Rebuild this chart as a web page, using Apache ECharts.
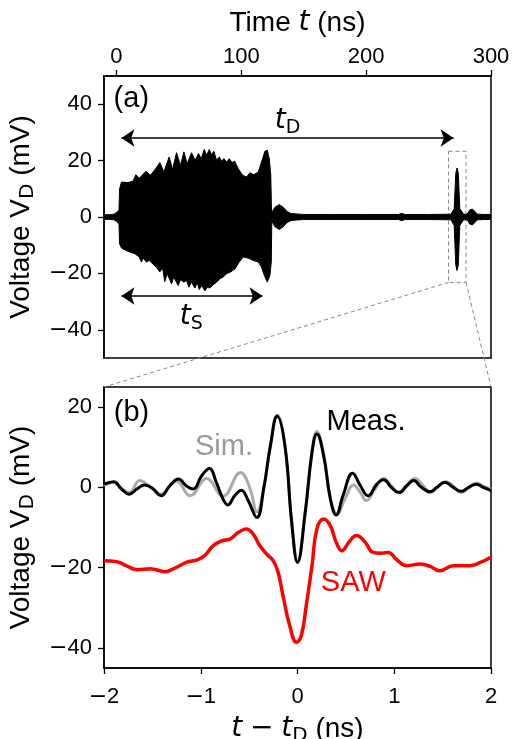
<!DOCTYPE html>
<html>
<head>
<meta charset="utf-8">
<script src="https://cdn.jsdelivr.net/npm/echarts@6/dist/echarts.min.js"></script>
<style>
  html, body { margin: 0; padding: 0; background: #fff; }
  #chart { width: 519px; height: 739px; }
</style>
</head>
<body>
<div id="chart"></div>
<script>
// (a) envelope of the dense detector trace V_D(t)
const upperT = [-10, -6, -2, 0, 2, 2.5, 4, 9, 13.3, 15.5, 18.2, 20, 23.5, 27.2, 31.5, 34.7, 38, 42.2, 44.9, 48.1,
  51.3, 54, 56.6, 60.1, 63, 65.7, 67.9, 70.3, 72.2, 74.3, 76.2, 78, 80.2, 82.3, 84.2, 86, 88.2, 90.3, 92.5, 94.6,
  97.5, 101, 104.2, 106.9, 110.1, 113.6, 116.2, 118.9, 120.8, 122.4, 123.6, 124.2, 125, 127, 130.4, 133.5, 136.5,
  140, 150, 170, 200, 226, 228.5, 231, 250, 268, 270.5, 271.8, 272.8, 273.8, 275, 278, 281, 283, 285, 287, 289, 295, 300]
const upperV = [0.9, 0.8, 1.0, 1.6, 2.5, 10.0, 12.4, 12.2, 12.7, 15.0, 13.8, 14.5, 16.2, 14.8, 17.2, 19.3, 16.0, 21.3, 16.9, 22.8,
  18.3, 23.1, 18.9, 22.8, 20.1, 22.5, 20.7, 24.0, 21.9, 23.9, 22.1, 23.3, 20.1, 21.3, 19.8, 20.7, 19.5, 20.7, 19.3, 19.8,
  17.2, 14.8, 14.2, 15.7, 15.0, 16.0, 19.5, 23.3, 23.7, 20.7, 14.8, 1.5, 1.2, 3.5, 4.4, 3.5, 2.0,
  1.2, 0.9, 0.9, 0.9, 0.9, 1.3, 0.9, 0.9, 1.0, 3.0, 15.5, 17.4, 15.5, 3.0, 1.0, 1.0, 2.5, 2.8, 2.0, 1.0, 0.9, 0.9]
const lowerT = [-10, -6, -2, 0, 2, 2.5, 4, 9.3, 14.7, 18.2, 20, 21.4, 24, 26.2, 28.9, 32, 34.7, 36.9, 38.7, 40.6,
  44.1, 45.9, 49.4, 51.3, 54, 56.1, 58, 60.1, 62.8, 64.7, 66.3, 68.4, 70.8, 72.7, 74.8, 77.5, 80.2, 82.8, 85.5, 88.2,
  91.4, 94.9, 98.3, 101.6, 105.6, 109.6, 113.6, 116.2, 118.4, 120.8, 122.9, 124, 124.4, 125, 127, 130.4, 133.5, 136.5,
  140, 150, 170, 200, 226, 228.5, 231, 250, 268, 270.5, 271.8, 272.8, 273.8, 275, 278, 281, 283, 285, 287, 289, 295, 300]
const lowerV = [-0.9, -0.8, -1.0, -1.5, -2.5, -9.5, -11.0, -12.2, -13.0, -14.2, -16.0, -14.6, -16.0, -15.4, -16.6, -17.8, -19.5, -18.1, -22.9, -20.1,
  -23.7, -21.3, -24.3, -22.2, -23.1, -22.5, -24.9, -23.1, -25.2, -23.3, -25.7, -24.3, -26.2, -24.9, -25.2, -24.0, -23.1, -21.9, -21.3, -20.1,
  -19.5, -18.4, -16.0, -14.2, -14.6, -15.4, -16.0, -17.8, -20.7, -23.1, -20.7, -16.0, -1.5, -1.2, -3.5, -4.4, -3.5, -2.0,
  -1.2, -0.9, -0.9, -0.9, -0.9, -1.3, -0.9, -0.9, -1.0, -3.0, -17.0, -19.0, -17.0, -3.0, -1.0, -1.0, -2.5, -2.8, -2.0, -1.0, -0.9, -0.9]
const topXTicks = [0, 100, 200, 300]
const topYTicks = [-40, -20, 0, 20, 40]

// (b) zoom around t_D
const measT = [-2.0, -1.9, -1.82, -1.74, -1.66, -1.58, -1.49, -1.41, -1.32, -1.23, -1.15, -1.08, -0.99, -0.91, -0.84, -0.77,
  -0.72, -0.65, -0.58, -0.51, -0.42, -0.35, -0.28, -0.21, -0.13, -0.06, 0.0, 0.08, 0.15, 0.2, 0.27, 0.34, 0.4, 0.47,
  0.57, 0.65, 0.73, 0.82, 0.89, 0.97, 1.05, 1.13, 1.2, 1.28, 1.37, 1.44, 1.52, 1.61, 1.69, 1.77, 1.85, 1.92, 2.0]
const measV = [0.8, 1.4, -0.4, -1.7, -0.4, 0.6, -0.4, -2.1, 0.4, 2.1, 0.4, -0.4, 2.9, 4.7, 1.3, -2.9,
  -4.4, -2.1, -0.7, -3.3, -7.5, -0.4, 10.4, 17.7, 10.4, -8.7, -18.7, -6.2, 8.7, 13.3, 7.9, -2.9, -6.9, -2.1,
  3.5, 0.4, -2.1, 0.8, 1.9, 0.0, -1.3, 0.4, 1.7, 0.0, -1.1, 0.0, 1.3, 0.0, -1.0, 0.0, 0.8, 0.0, -0.8]
const simT = [-2.0, -1.9, -1.82, -1.74, -1.63, -1.52, -1.42, -1.25, -1.11, -0.94, -0.77, -0.59, -0.49, -0.42, -0.35, -0.28,
  -0.21, -0.13, -0.06, 0.0, 0.08, 0.15, 0.2, 0.27, 0.34, 0.41, 0.49, 0.58, 0.65, 0.71, 0.8, 0.89, 0.97, 1.04,
  1.13, 1.21, 1.3, 1.37, 1.46, 1.54, 1.61, 1.69, 1.77, 1.85, 1.92, 2.0]
const simV = [0.4, 1.3, -0.3, -1.3, 1.7, 0.0, -1.7, 1.5, -2.1, 2.2, -2.2, 3.7, -0.4, -6.1, -0.4, 10.4,
  18.0, 10.4, -8.7, -18.3, -6.2, 9.1, 13.9, 8.3, -2.9, -6.6, -2.9, 0.6, -1.3, -3.3, -0.4, 2.2, 0.4, -1.3,
  0.6, 2.2, 0.4, -1.3, 0.3, 1.4, 0.3, -1.3, 0.0, 1.1, 0.3, -0.4]
const sawT = [-2.0, -1.87, -1.77, -1.66, -1.52, -1.37, -1.25, -1.15, -1.03, -0.96, -0.87, -0.78, -0.7, -0.61, -0.53, -0.46,
  -0.39, -0.32, -0.25, -0.2, -0.15, -0.08, -0.01, 0.04, 0.09, 0.15, 0.2, 0.27, 0.34, 0.4, 0.46, 0.53, 0.61, 0.7,
  0.78, 0.87, 0.94, 1.02, 1.13, 1.27, 1.37, 1.47, 1.61, 1.78, 1.89, 2.0]
const sawV = [-18.3, -18.5, -19.5, -20.5, -20.3, -21.0, -19.9, -18.7, -18.0, -17.0, -14.5, -13.3, -12.9, -11.2, -10.4, -11.6,
  -14.5, -16.6, -18.3, -21.2, -27.0, -34.5, -38.6, -36.9, -29.5, -19.5, -10.4, -7.9, -9.6, -13.7, -15.8, -13.7, -12.0, -13.7,
  -16.2, -16.4, -16.2, -17.9, -19.5, -19.1, -19.7, -20.8, -19.5, -19.5, -18.7, -17.4]
const bottomYTicks = [-40, -20, 0, 20]

// annotation anchors (data coordinates)
const tdArrow = [[4, 28], [270, 28]]
const tsArrow = [[4, -28], [117, -28]]
const zoomBox = [[266, 23.3], [280, -23.2]]

const FONT = 'Liberation Sans, Arial, sans-serif'
const MATH = 'DejaVu Sans'
const pairs = (xs, ys) => xs.map((x, i) => [x, ys[i]])
// matplotlib-style wide minus sign on tick labels
const minus = v => v < 0 ? '{m|\u2212}' + Math.abs(v) : String(v)

const axisLineStyle = { color: '#000', width: 1.5 }
const tickStyle = { color: '#000', width: 1.3 }
const labelStyle = {
  color: '#000', fontSize: 22, fontFamily: FONT, formatter: minus,
  rich: { m: { fontSize: 22, fontFamily: MATH, color: '#000' } }
}
const nameStyle = {
  color: '#000', fontSize: 28, fontFamily: FONT, lineHeight: 34,
  rich: {
    i: { fontSize: 28, fontFamily: MATH, fontStyle: 'italic', color: '#000', lineHeight: 34 },
    m: { fontSize: 28, fontFamily: MATH, color: '#000', lineHeight: 34 },
    sub: { fontSize: 20, fontFamily: MATH, color: '#000', lineHeight: 20, verticalAlign: 'bottom' }
  }
}

const chart = echarts.init(document.getElementById('chart'))
chart.setOption({
  animation: false,
  grid: [
    { left: 104, top: 76, width: 387, height: 282, show: true, borderColor: '#000', borderWidth: 1.5, outerBoundsMode: 'none' },
    { left: 104, top: 387, width: 387, height: 281, show: true, borderColor: '#000', borderWidth: 1.5, outerBoundsMode: 'none' }
  ],
  xAxis: [
    {
      gridIndex: 0, type: 'value', position: 'top', min: -10, max: 300,
      name: 'Time {i|t} (ns)', nameLocation: 'middle', nameGap: 36, nameTextStyle: nameStyle,
      axisLine: { onZero: false, lineStyle: axisLineStyle },
      axisTick: { length: 6, customValues: topXTicks, lineStyle: tickStyle },
      axisLabel: Object.assign({ margin: 8, customValues: topXTicks }, labelStyle),
      splitLine: { show: false }
    },
    {
      gridIndex: 1, type: 'value', min: -2, max: 2, interval: 1,
      name: '{i|t} {m|\u2212} {i|t}{sub|D} (ns)', nameLocation: 'middle', nameGap: 44, nameTextStyle: nameStyle,
      axisLine: { onZero: false, lineStyle: axisLineStyle },
      axisTick: { length: 6, lineStyle: tickStyle },
      axisLabel: Object.assign({ margin: 18 }, labelStyle),
      splitLine: { show: false }
    }
  ],
  yAxis: [
    {
      gridIndex: 0, type: 'value', min: -50, max: 50,
      name: 'Voltage V{sub|D} (mV)', nameLocation: 'middle', nameGap: 60, nameRotate: 90, nameTextStyle: nameStyle,
      axisLine: { onZero: false, lineStyle: axisLineStyle },
      axisTick: { length: 6, customValues: topYTicks, lineStyle: tickStyle },
      axisLabel: Object.assign({ margin: 12, customValues: topYTicks }, labelStyle),
      splitLine: { show: false }
    },
    {
      gridIndex: 1, type: 'value', min: -45, max: 25,
      name: 'Voltage V{sub|D} (mV)', nameLocation: 'middle', nameGap: 60, nameRotate: 90, nameTextStyle: nameStyle,
      axisLine: { onZero: false, lineStyle: axisLineStyle },
      axisTick: { length: 6, customValues: bottomYTicks, lineStyle: tickStyle },
      axisLabel: Object.assign({ margin: 12, customValues: bottomYTicks }, labelStyle),
      splitLine: { show: false }
    }
  ],
  series: [
    {
      name: 'upper', type: 'line', xAxisIndex: 0, yAxisIndex: 0, data: pairs(upperT, upperV),
      showSymbol: false, silent: true, lineStyle: { color: '#000', width: 1 },
      areaStyle: { color: '#000', opacity: 1 },
      markLine: {
        silent: true, symbol: ['arrow', 'arrow'], symbolSize: 13, label: { show: false },
        lineStyle: { color: '#000', width: 1.5, type: 'solid' },
        data: [
          [{ coord: tdArrow[0] }, { coord: tdArrow[1] }],
          [{ coord: tsArrow[0] }, { coord: tsArrow[1] }]
        ]
      },
      markArea: {
        silent: true,
        itemStyle: { color: 'rgba(0,0,0,0)', borderColor: '#888', borderWidth: 1, borderType: [4, 3] },
        data: [[{ coord: zoomBox[0] }, { coord: zoomBox[1] }]]
      }
    },
    {
      name: 'lower', type: 'line', xAxisIndex: 0, yAxisIndex: 0, data: pairs(lowerT, lowerV),
      showSymbol: false, silent: true, lineStyle: { color: '#000', width: 1 },
      areaStyle: { color: '#000', opacity: 1 }
    },
    {
      name: 'Sim.', type: 'line', xAxisIndex: 1, yAxisIndex: 1, data: pairs(simT, simV),
      showSymbol: false, smooth: 0.45, lineStyle: { color: '#aaaaaa', width: 3 }
    },
    {
      name: 'Meas.', type: 'line', xAxisIndex: 1, yAxisIndex: 1, data: pairs(measT, measV),
      showSymbol: false, smooth: 0.45, lineStyle: { color: '#000', width: 3 }
    },
    {
      name: 'SAW', type: 'line', xAxisIndex: 1, yAxisIndex: 1, data: pairs(sawT, sawV),
      showSymbol: false, smooth: 0.45, lineStyle: { color: '#ff0000', width: 3.5 }
    }
  ]
})

// labels and the zoom connectors, placed through the axes
const px = (g, c) => chart.convertToPixel({ gridIndex: g }, c)
const text = (g, c, str, color, extra) => {
  const p = px(g, c)
  return {
    type: 'text', x: p[0], y: p[1], z: 100,
    style: Object.assign({
      text: str, fill: color, fontSize: 29, fontFamily: FONT, align: 'center', verticalAlign: 'middle'
    }, extra || {})
  }
}
const mathRich = {
  i: { fontSize: 28, fontFamily: MATH, fontStyle: 'italic', fill: '#000', lineHeight: 34 },
  sub: { fontSize: 19, fontFamily: MATH, fill: '#000', lineHeight: 19, verticalAlign: 'bottom' }
}
const boxBL = px(0, [zoomBox[0][0], zoomBox[1][1]])
const boxBR = px(0, [zoomBox[1][0], zoomBox[1][1]])
const panelTL = px(1, [-2, 25])
const panelTR = px(1, [2, 25])
const dashed = { stroke: '#888', lineWidth: 1, lineDash: [4, 3] }

chart.setOption({
  graphic: [
    { type: 'line', z: 50, shape: { x1: boxBL[0], y1: boxBL[1], x2: panelTL[0], y2: panelTL[1] }, style: dashed },
    { type: 'line', z: 50, shape: { x1: boxBR[0], y1: boxBR[1], x2: panelTR[0], y2: panelTR[1] }, style: dashed },
    text(0, [11.9, 41.8], '(a)', '#000'),
    text(0, [137, 34.3], '{i|t}{sub|D}', '#000', { rich: mathRich }),
    text(0, [60, -35.2], '{i|t}{sub|S}', '#000', { rich: mathRich }),
    text(1, [-1.716, 18.6], '(b)', '#000'),
    text(1, [-0.76, 10.0], 'Sim.', '#999999'),
    text(1, [0.708, 16.4], 'Meas.', '#000'),
    text(1, [0.577, -23.8], 'SAW', '#ff0000')
  ]
})
</script>
</body>
</html>
